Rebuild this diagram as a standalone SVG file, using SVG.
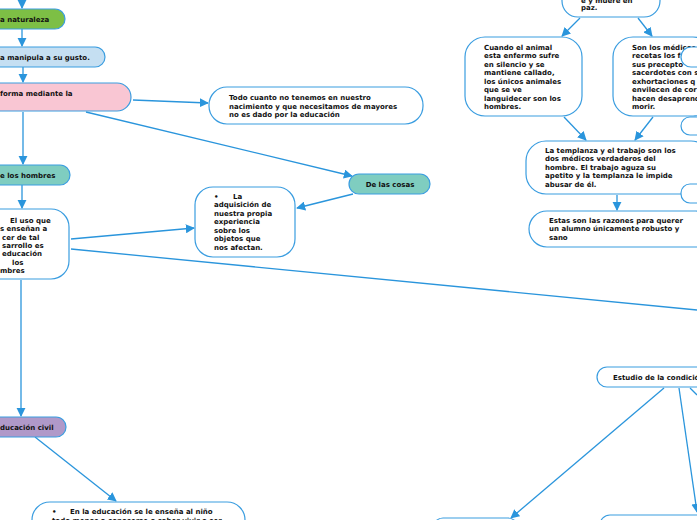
<svg xmlns="http://www.w3.org/2000/svg" width="697" height="520" viewBox="0 0 697 520">
<style>
.n{stroke:#3a9de0;stroke-width:1.2;fill:#fff}
.t{font-family:"DejaVu Sans",Verdana,sans-serif;font-weight:bold;font-size:7px;fill:#111}
.c line{stroke:#2a95dc;stroke-width:1.3;fill:none}
</style>
<defs><marker id="a" viewBox="0 0 10 10" refX="9" refY="5" markerWidth="7" markerHeight="7" orient="auto"><path d="M0,0L10,5L0,10z" fill="#2a95dc"/></marker></defs>
<rect width="697" height="520" fill="#fff"/>
<g class="c">
<line x1="22" y1="0" x2="22" y2="8" marker-end="url(#a)"/>
<line x1="22" y1="29" x2="22" y2="46" marker-end="url(#a)"/>
<line x1="23" y1="67" x2="23" y2="82" marker-end="url(#a)"/>
<line x1="133" y1="100" x2="208" y2="103" marker-end="url(#a)"/>
<line x1="86" y1="112" x2="352" y2="176" marker-end="url(#a)"/>
<line x1="23" y1="112" x2="23" y2="164" marker-end="url(#a)"/>
<line x1="22" y1="185" x2="22" y2="208" marker-end="url(#a)"/>
<line x1="71" y1="239" x2="194" y2="228" marker-end="url(#a)"/>
<line x1="353" y1="194" x2="297" y2="208" marker-end="url(#a)"/>
<line x1="71" y1="249" x2="697" y2="310"/>
<line x1="21" y1="280" x2="21" y2="416" marker-end="url(#a)"/>
<line x1="35" y1="437" x2="116" y2="501" marker-end="url(#a)"/>
<line x1="580" y1="18" x2="562" y2="36" marker-end="url(#a)"/>
<line x1="638" y1="18" x2="652" y2="36" marker-end="url(#a)"/>
<line x1="564" y1="117" x2="586" y2="140" marker-end="url(#a)"/>
<line x1="653" y1="117" x2="635" y2="140" marker-end="url(#a)"/>
<line x1="617" y1="195" x2="617" y2="210" marker-end="url(#a)"/>
<line x1="664" y1="388" x2="511" y2="518" marker-end="url(#a)"/>
<line x1="679" y1="388" x2="697" y2="512" marker-end="url(#a)"/>
<line x1="690" y1="388" x2="697" y2="395"/>
</g>
<g id="n1"><rect class="n" x="-20" y="9" width="85" height="20" rx="10" style="fill:#7dbf45"/><text class="t" x="0" y="22">a naturaleza</text></g>
<g id="n2"><rect class="n" x="-20" y="47" width="125" height="20" rx="10" style="fill:#c5dff2"/><text class="t" x="0" y="60">a manipula a su gusto.</text></g>
<g id="n3"><rect class="n" x="-20" y="83" width="151" height="28" rx="14" style="fill:#f9c6d3"/><text class="t" x="0" y="96">forma mediante la</text></g>
<g id="n4"><rect class="n" x="209" y="87" width="214" height="37" rx="18"/><text class="t" x="229" y="100">Todo cuanto no tenemos en nuestro</text><text class="t" x="229" y="109">nacimiento y que necesitamos de mayores</text><text class="t" x="229" y="117">no es dado por la educación</text></g>
<g id="n5"><rect class="n" x="349" y="174" width="81" height="20" rx="10" style="fill:#7fcdc0"/><text class="t" x="390" y="187" text-anchor="middle">De las cosas</text></g>
<g id="n6"><rect class="n" x="-20" y="165" width="90" height="20" rx="10" style="fill:#7fcdc0"/><text class="t" x="0" y="178">e los hombres</text></g>
<g id="n7"><rect class="n" x="-20" y="209" width="89" height="70" rx="18"/><text class="t" x="10" y="223">El uso que</text><text class="t" x="0" y="231">s enseñan a</text><text class="t" x="2" y="240">cer de tal</text><text class="t" x="2" y="248">sarrollo es</text><text class="t" x="2" y="256">educación</text><text class="t" x="12" y="265">los</text><text class="t" x="0" y="273">mbres</text></g>
<g id="n8"><rect class="n" x="195" y="187" width="100" height="70" rx="18"/><text class="t" y="199"><tspan x="214">•</tspan><tspan x="233">La</tspan></text><text class="t" x="214" y="207">adquisición de</text><text class="t" x="214" y="216">nuestra propia</text><text class="t" x="214" y="224">experiencia</text><text class="t" x="214" y="233">sobre los</text><text class="t" x="214" y="241">objetos que</text><text class="t" x="214" y="250">nos afectan.</text></g>
<g id="n9"><rect class="n" x="-20" y="417" width="86" height="20" rx="10" style="fill:#b099c9"/><text class="t" x="0" y="430">ducación civil</text></g>
<g id="n10"><rect class="n" x="32" y="502" width="213" height="40" rx="18"/><text class="t" y="514"><tspan x="52">•</tspan><tspan x="70">En la educación se le enseña al niño</tspan></text><text class="t" x="52" y="523">todo menos a conocerse o saber vivir o ser</text></g>
<g id="n11"><rect class="n" x="562" y="-20" width="98" height="37" rx="16"/><text class="t" x="581" y="3">e y muere en</text><text class="t" x="581" y="10">paz.</text></g>
<g id="n12"><rect class="n" x="465" y="37" width="117" height="79" rx="20"/><text class="t" x="484" y="50">Cuando el animal</text><text class="t" x="484" y="58">esta enfermo sufre</text><text class="t" x="484" y="67">en silencio y se</text><text class="t" x="484" y="75">mantiene callado,</text><text class="t" x="484" y="84">los únicos animales</text><text class="t" x="484" y="92">que se ve</text><text class="t" x="484" y="101">languidecer son los</text><text class="t" x="484" y="109">hombres.</text></g>
<g id="n13"><rect class="n" x="613" y="37" width="100" height="79" rx="20"/><text class="t" x="632" y="50">Son los médicos</text><text class="t" x="632" y="58">recetas los f</text><text class="t" x="632" y="67">sus precepto</text><text class="t" x="632" y="75">sacerdotes con s</text><text class="t" x="632" y="84">exhortaciones q</text><text class="t" x="632" y="92">envilecen de cor</text><text class="t" x="632" y="101">hacen desaprend</text><text class="t" x="632" y="109">morir.</text></g>
<g id="n14"><rect class="n" x="526" y="141" width="185" height="53" rx="20"/><text class="t" x="545" y="153">La templanza y el trabajo son los</text><text class="t" x="545" y="161">dos médicos verdaderos del</text><text class="t" x="545" y="170">hombre. El trabajo aguza su</text><text class="t" x="545" y="178">apetito y la templanza le impide</text><text class="t" x="545" y="187">abusar de él.</text></g>
<g id="n15"><rect class="n" x="681" y="47" width="40" height="20" rx="10"/></g>
<g id="n16"><rect class="n" x="681" y="117" width="40" height="18" rx="9"/></g>
<g id="n17"><rect class="n" x="681" y="184" width="40" height="19" rx="9"/></g>
<g id="n18"><rect class="n" x="529" y="211" width="185" height="36" rx="18"/><text class="t" x="549" y="223">Estas son las razones para querer</text><text class="t" x="549" y="231">un alumno únicamente robusto y</text><text class="t" x="549" y="240">sano</text></g>
<g id="n19"><rect class="n" x="597" y="367" width="120" height="20" rx="10"/><text class="t" x="613" y="380">Estudio de la condición</text></g>
<g id="n20"><rect class="n" x="433" y="518" width="85" height="20" rx="10"/></g>
<g id="n21"><rect class="n" x="600" y="515" width="120" height="20" rx="10"/></g>
</svg>
